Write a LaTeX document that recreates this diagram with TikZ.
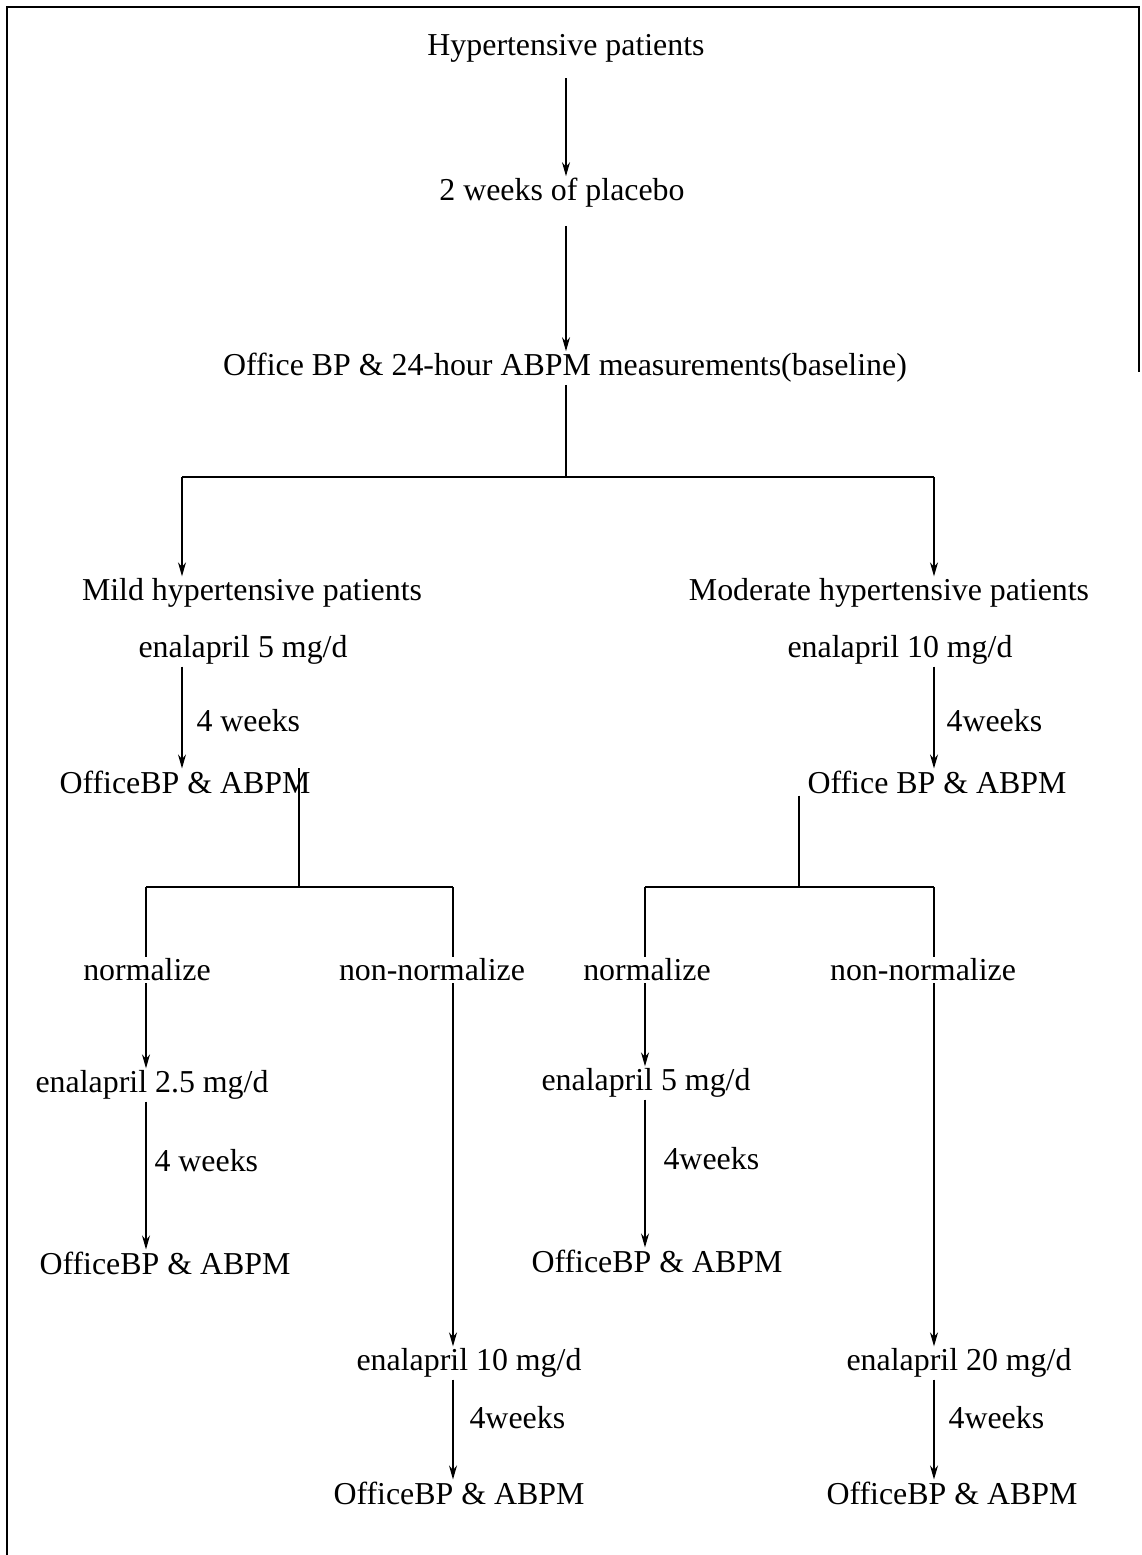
\documentclass[tikz,border=0pt]{standalone}
\usepackage{fontspec}
\setmainfont{Liberation Serif}
\usetikzlibrary{arrows.meta}
\begin{document}
\begin{tikzpicture}[x=1bp,y=-1bp,every node/.style={font=\fontsize{32}{37}\selectfont,inner sep=2bp,yshift=-3bp},
  conn/.style={line width=1.1bp},arr/.style={conn,-{Stealth[length=14bp,width=8bp]}}]
\useasboundingbox (0,0) rectangle (1141,1555);
\draw[line width=1.6bp] (7,1555)--(7,7)--(1139,7)--(1139,372);
% top part
\node (hp) at (566,45) {Hypertensive patients};
\node (plc) at (562,190) {2 weeks of placebo};
\node (base) at (565,365) {Office BP \& 24-hour ABPM measurements(baseline)};
\coordinate (top) at (566,474); \coordinate (jL) at (182,474); \coordinate (jR) at (934,474);
\draw[arr] (hp.south -| top)+(0,14)--(plc.north -| top);
\draw[arr] (plc.south -| top)+(0,16)--(base.north -| top);
\draw[conn] (base.south -| top)--(top); \draw[conn] (jL)--(jR);
% mild branch
\node (mild) at (252,590) {Mild hypertensive patients};
\node (e5) at (243,647) {enalapril 5 mg/d};
\node (obL) at (185,779) {OfficeBP \& ABPM};
\draw[arr] (jL)--(jL |- mild.north);
\draw[arr] (e5.south -| jL)--(obL.north -| jL) node[midway,right=12bp]{4 weeks};
% moderate branch
\node (mod) at (889,590) {Moderate hypertensive patients};
\node (e10) at (900,647) {enalapril 10 mg/d};
\node (obR) at (937,779) {Office BP \& ABPM};
\draw[arr] (jR)--(jR |- mod.north);
\draw[arr] (e10.south -| jR)--(obR.north -| jR) node[midway,right=10bp]{4weeks};
% second split
\coordinate (sL) at (299,884); \coordinate (sR) at (799,884);
\coordinate (nL) at (146,884); \coordinate (xL) at (453,884);
\coordinate (nR) at (645,884); \coordinate (xR) at (934,884);
\draw[conn] (sL |- obL.north)--(sL); \draw[conn] (nL)--(xL);
\draw[conn] (sR |- obR.south)--(sR); \draw[conn] (nR)--(xR);
\node (n1) at (147,967) {normalize};
\node (x1) at (432,967) {non-normalize};
\node (n2) at (647,967) {normalize};
\node (x2) at (923,967) {non-normalize};
\draw[conn] (nL)--(nL |- n1.north); \draw[conn] (xL)--(xL |- x1.north);
\draw[conn] (nR)--(nR |- n2.north); \draw[conn] (xR)--(xR |- x2.north);
% normalize, mild
\node (e25) at (152,1082) {enalapril 2.5 mg/d};
\node (ob1) at (165,1260) {OfficeBP \& ABPM};
\draw[arr] (n1.south -| nL)--(e25.north -| nL);
\draw[arr] (e25.south -| nL)--(ob1.north -| nL) node[pos=0.38,right=6bp]{4 weeks};
% normalize, moderate
\node (e5b) at (646,1080) {enalapril 5 mg/d};
\node (ob2) at (657,1258) {OfficeBP \& ABPM};
\draw[arr] (n2.south -| nR)--(e5b.north -| nR);
\draw[arr] (e5b.south -| nR)--(ob2.north -| nR) node[pos=0.38,right=16bp]{4weeks};
% non-normalize
\node (e10b) at (469,1360) {enalapril 10 mg/d};
\node (ob3) at (459,1490) {OfficeBP \& ABPM};
\draw[arr] (x1.south -| xL)--(e10b.north -| xL);
\draw[arr] (e10b.south -| xL)--(ob3.north -| xL) node[pos=0.35,right=14bp]{4weeks};
\node (e20) at (959,1360) {enalapril 20 mg/d};
\node (ob4) at (952,1490) {OfficeBP \& ABPM};
\draw[arr] (x2.south -| xR)--(e20.north -| xR);
\draw[arr] (e20.south -| xR)--(ob4.north -| xR) node[pos=0.35,right=12bp]{4weeks};
\end{tikzpicture}
\end{document}
